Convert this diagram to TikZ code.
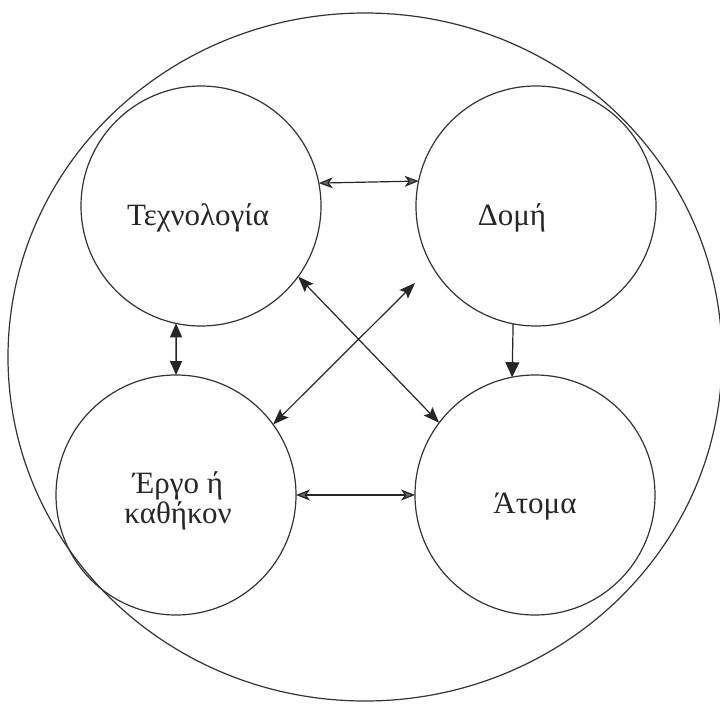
\documentclass[tikz,border=0pt]{standalone}
\usepackage{fontspec}
\setmainfont{Liberation Serif}
\usetikzlibrary{arrows.meta}

\tikzset{
  ring/.style={circle, draw=black!80, line width=1.2pt, minimum size=240pt, inner sep=0pt, outer sep=0pt},
  lbl/.style={anchor=base, inner sep=0pt, text=black!85, font=\fontsize{31}{36}\selectfont},
  link/.style={draw=black!85, line width=1.2pt},
  twoway/.style={link, {Stealth[length=16pt,width=12pt,inset=3pt]}-{Stealth[length=16pt,width=12pt,inset=3pt]}},
  softway/.style={link, {Stealth[length=14pt,width=11pt,inset=4pt,fill=black!60]}-{Stealth[length=14pt,width=11pt,inset=4pt,fill=black!60]}},
  boldway/.style={link, line width=1.5pt, {Triangle[length=14pt,width=12pt]}-{Triangle[length=14pt,width=12pt]}},
  oneway/.style={link, -{Triangle[length=15pt,width=14pt]}}
}

\begin{document}
\begin{tikzpicture}[x=1pt, y=-1pt]
  \useasboundingbox (0,0) rectangle (720,704);
  \fill[white] (0,0) rectangle (720,704);

  % enclosing system boundary
  \draw[black!80, line width=1.2pt] (365,357) ellipse [x radius=357, y radius=344];

  % the four subsystems
  \node[ring] (tech)  at (201,206) {};
  \node[ring] (dom)   at (536,206) {};
  \node[ring] (ergo)  at (176,495) {};
  \node[ring] (atoma) at (535,495) {};

  \node[lbl] (techtxt)  at (198,225) {Τεχνολογία};
  \node[lbl] (domtxt)   at (512,225) {Δομή};
  \node[lbl] (ergotxt)  at (178,493) {Έργο ή};
  \node[lbl] (ergotxt2) at (178,523) {καθήκον};
  \node[lbl] (atomatxt) at (535,513) {Άτομα};

  \coordinate (domtip) at (415,283);

  % interactions
  \draw[softway] (tech.11.5) -- (dom.168.5);
  \draw[softway] (ergo.0) -- (atoma.180);
  \draw[boldway] (tech.-102) -- (ergo.90);
  \draw[oneway]  (dom.-101.5) -- (atoma.101);
  \draw[twoway]  (tech.-36.6) -- (atoma.143.4);
  \draw[twoway]  (ergo.36.6) -- (domtip);
\end{tikzpicture}
\end{document}
